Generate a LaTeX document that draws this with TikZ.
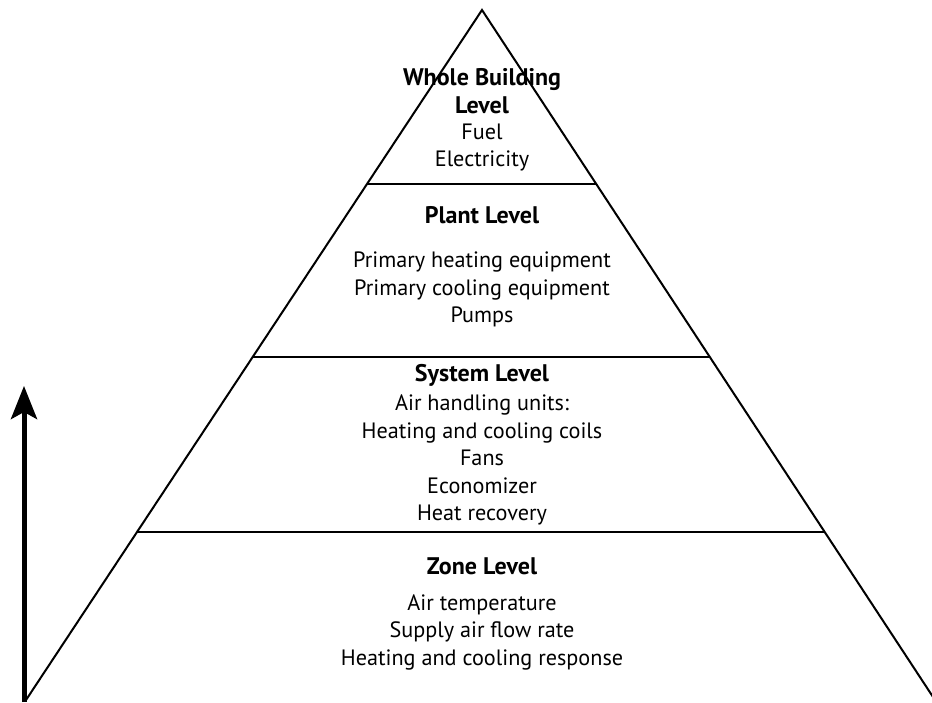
\documentclass[tikz,border=0pt]{standalone}
\usepackage{fontspec}
\setmainfont{PT Sans}
\usetikzlibrary{arrows.meta,calc}
\begin{document}
\begin{tikzpicture}[x=1pt,y=-1pt,
  side/.style={line width=2pt},
  divider/.style={line width=2.4pt},
  head/.style={font=\fontsize{24}{28}\selectfont\bfseries,align=center,inner sep=0pt},
  items/.style={font=\fontsize{22.2}{27.5}\selectfont,align=center,inner sep=0pt},
  uparrow/.style={line width=5pt,-{Stealth[length=33pt,width=26pt,inset=7pt]}}]
\useasboundingbox (0,0) rectangle (932,702);
\coordinate (apex) at (482,10);
\coordinate (L) at (26,700);
\coordinate (R) at (935,700);
\draw[side] (L) -- (apex) -- (R);
\coordinate (l1) at ($(apex)!0.2522!(L)$);
\coordinate (r1) at ($(apex)!0.2522!(R)$);
\coordinate (l2) at ($(apex)!0.5029!(L)$);
\coordinate (r2) at ($(apex)!0.5029!(R)$);
\coordinate (l3) at ($(apex)!0.7565!(L)$);
\coordinate (r3) at ($(apex)!0.7565!(R)$);
\draw[divider] (l1) -- (r1);
\draw[divider] (l2) -- (r2);
\draw[divider] (l3) -- (r3);
\node[head] (whole) at (482,91) {Whole Building\\Level};
\node[items] (wholeitems) at (482,147.5) {Fuel\\Electricity};
\node[head] (plant) at (482,215) {Plant Level};
\node[items] (plantitems) at (482,289.5) {Primary heating equipment\\Primary cooling equipment\\Pumps};
\node[head] (system) at (482,375) {System Level};
\node[items] (systemitems) at (482,460) {Air handling units:\\Heating and cooling coils\\Fans\\Economizer\\Heat recovery};
\node[head] (zone) at (482,566) {Zone Level};
\node[items] (zoneitems) at (482,632) {Air temperature\\Supply air flow rate\\Heating and cooling response};
\coordinate (abot) at (24,702);
\coordinate (atop) at (24,386);
\draw[uparrow] (abot) -- (atop);
\end{tikzpicture}
\end{document}
